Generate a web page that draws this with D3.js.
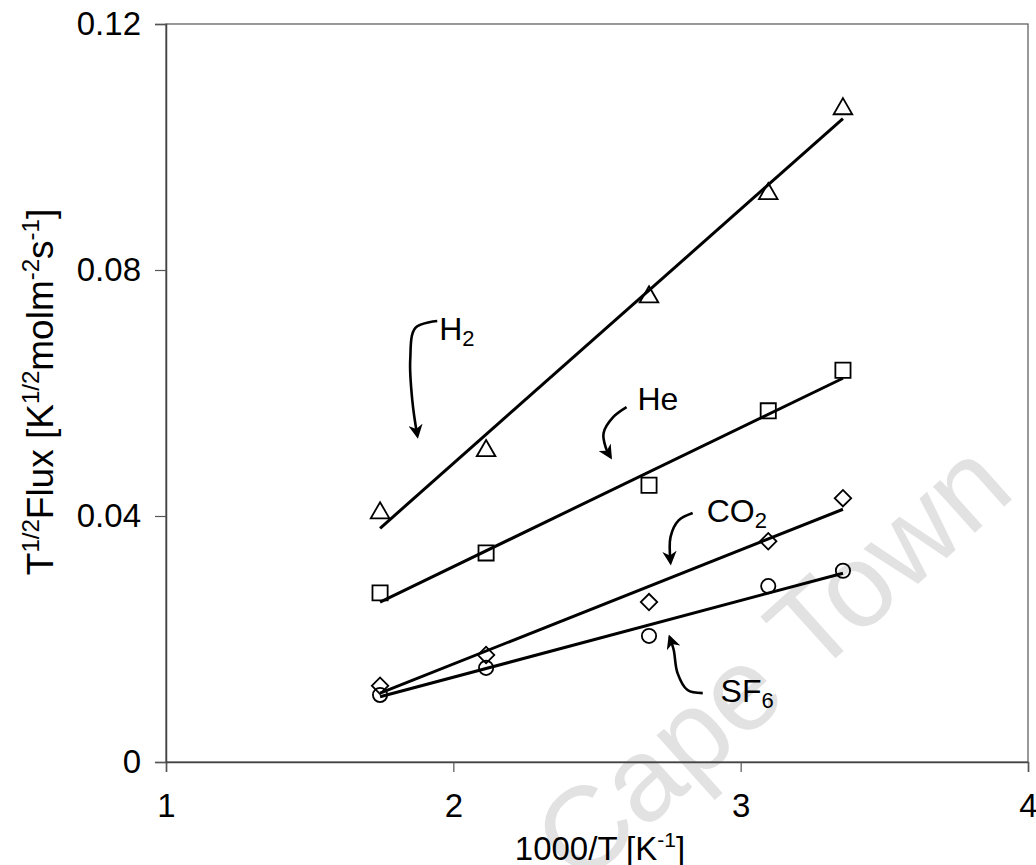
<!DOCTYPE html>
<html>
<head>
<meta charset="utf-8">
<script src="https://cdn.jsdelivr.net/npm/d3@7"></script>
<style>
  html, body { margin: 0; padding: 0; background: #fff; }
  svg { display: block; font-family: "Liberation Sans", Arial, sans-serif; }
</style>
</head>
<body>
<svg id="chart" width="1036" height="865"></svg>
<script>
// Inverse temperature, 1000/T [1/K]
const invT = [1.745, 2.114, 2.681, 3.096, 3.356];

// Temperature-corrected flux T^1/2 * Flux for each gas
const fluxH2  = [0.0405, 0.0506, 0.0756, 0.0924, 0.1062];
const fluxHe  = [0.0275, 0.0340, 0.0450, 0.0571, 0.0637];
const fluxCO2 = [0.0124, 0.0174, 0.0260, 0.0359, 0.0429];
const fluxSF6 = [0.0109, 0.0153, 0.0205, 0.0286, 0.0311];

// Linear fit end values at the first and last inverse temperature
const fitH2  = [0.0380, 0.1046];
const fitHe  = [0.0260, 0.0624];
const fitCO2 = [0.0112, 0.0411];
const fitSF6 = [0.0106, 0.0307];

// Axis ticks
const xTicks = [1, 2, 3, 4];
const yTicks = [0, 0.04, 0.08, 0.12];

// Gas labels and their curved pointer arrows (data units)
const labelH2  = [1.951, 0.0686];
const labelHe  = [2.641, 0.0572];
const labelCO2 = [2.882, 0.0390];
const labelSF6 = [2.930, 0.0098];
const arrowH2  = [[1.944, 0.0717], [1.868, 0.0706], [1.850, 0.0654], [1.857, 0.0589], [1.875, 0.0530]];
const arrowHe  = [[2.603, 0.0577], [2.557, 0.0561], [2.523, 0.0535], [2.530, 0.0512], [2.547, 0.0496]];
const arrowCO2 = [[2.833, 0.0405], [2.784, 0.0393], [2.756, 0.0366], [2.756, 0.0324]];
const arrowSF6 = [[2.868, 0.0112], [2.815, 0.0117], [2.780, 0.0145], [2.767, 0.0182], [2.753, 0.0203]];

const svg = d3.select("#chart");
const margin = { left: 166, right: 8, top: 24, bottom: 103 };
const W = 1036, H = 865;

const x = d3.scaleLinear().domain([1, 4]).range([margin.left, W - margin.right]);
const y = d3.scaleLinear().domain([0, 0.12]).range([H - margin.bottom, margin.top]);

// Faint watermark behind the plot
svg.append("text")
  .attr("transform", "translate(778,668) rotate(-42)")
  .attr("text-anchor", "middle")
  .attr("dominant-baseline", "middle")
  .attr("font-size", 118)
  .attr("fill", "#e2e2e2")
  .text("Cape Town");

// Plot frame
svg.append("rect")
  .attr("x", x(1)).attr("y", y(0.12))
  .attr("width", x(4) - x(1)).attr("height", y(0) - y(0.12))
  .attr("fill", "none").attr("stroke", "#555").attr("stroke-width", 1.2);

// Axes
const xAxis = d3.axisBottom(x).tickValues(xTicks).tickFormat(d3.format("d")).tickSizeOuter(0).tickSize(10).tickPadding(22);
const yAxis = d3.axisLeft(y).tickValues(yTicks).tickFormat(d => d === 0 ? "0" : d3.format(".2f")(d)).tickSizeOuter(0).tickSize(11).tickPadding(14);

const gx = svg.append("g").attr("transform", `translate(0,${y(0)})`).call(xAxis);
const gy = svg.append("g").attr("transform", `translate(${x(1)},0)`).call(yAxis);
[gx, gy].forEach(g => {
  g.select(".domain").attr("stroke", "#444").attr("stroke-width", 1.5);
  g.selectAll(".tick line").attr("stroke", "#555").attr("stroke-width", 1.2);
  g.selectAll(".tick text").attr("font-size", 33).attr("fill", "#000")
    .attr("font-family", "Liberation Sans, Arial, sans-serif");
});

// Axis titles
const xt = svg.append("text")
  .attr("x", 600).attr("y", 860)
  .attr("text-anchor", "middle").attr("font-size", 33);
xt.append("tspan").text("1000/T [K");
xt.append("tspan").attr("font-size", 21).attr("dy", -13).text("-1");
xt.append("tspan").attr("dy", 13).text("]");

const yt = svg.append("text")
  .attr("transform", "translate(53,392) rotate(-90)")
  .attr("text-anchor", "middle").attr("font-size", 37);
yt.append("tspan").text("T");
yt.append("tspan").attr("font-size", 24).attr("dy", -14).text("1/2");
yt.append("tspan").attr("dy", 14).text("Flux [K");
yt.append("tspan").attr("font-size", 24).attr("dy", -14).text("1/2");
yt.append("tspan").attr("dy", 14).text("molm");
yt.append("tspan").attr("font-size", 24).attr("dy", -14).text("-2");
yt.append("tspan").attr("dy", 14).text("s");
yt.append("tspan").attr("font-size", 24).attr("dy", -14).text("-1");
yt.append("tspan").attr("dy", 14).text("]");

// Fit lines
const fits = [fitH2, fitHe, fitCO2, fitSF6];
svg.append("g").selectAll("line").data(fits).join("line")
  .attr("x1", x(invT[0])).attr("x2", x(invT[invT.length - 1]))
  .attr("y1", d => y(d[0])).attr("y2", d => y(d[1]))
  .attr("stroke", "#000").attr("stroke-width", 3);

// Markers (the diamond is a square turned by 45 degrees)
const series = [
  { vals: fluxH2,  sym: d3.symbolTriangle, size: 150, rot: 0 },
  { vals: fluxHe,  sym: d3.symbolSquare,   size: 230, rot: 0 },
  { vals: fluxCO2, sym: d3.symbolSquare,   size: 135, rot: 45 },
  { vals: fluxSF6, sym: d3.symbolCircle,   size: 160, rot: 0 }
];
series.forEach(s => {
  svg.append("g").selectAll("path").data(s.vals).join("path")
    .attr("transform", (d, i) => `translate(${x(invT[i])},${y(d)}) rotate(${s.rot})`)
    .attr("d", d3.symbol().type(s.sym).size(s.size))
    .attr("fill", "none").attr("stroke", "#000").attr("stroke-width", 1.8);
});

// Arrow heads
svg.append("defs").append("marker")
  .attr("id", "head").attr("viewBox", "0 0 10 10")
  .attr("refX", 8).attr("refY", 5)
  .attr("markerWidth", 5.5).attr("markerHeight", 5.5)
  .attr("markerUnits", "strokeWidth")
  .attr("orient", "auto")
  .append("path").attr("d", "M0,0 L10,5 L0,10 L3,5 Z").attr("fill", "#000");

const curve = d3.line().x(d => x(d[0])).y(d => y(d[1])).curve(d3.curveCatmullRom);
[arrowH2, arrowHe, arrowCO2, arrowSF6].forEach(a => {
  svg.append("path").attr("d", curve(a))
    .attr("fill", "none").attr("stroke", "#000").attr("stroke-width", 2.6)
    .attr("marker-end", "url(#head)");
});

// Gas labels with subscripts
function gasLabel(pos, main, sub) {
  const t = svg.append("text").attr("x", x(pos[0])).attr("y", y(pos[1])).attr("font-size", 32);
  t.append("tspan").text(main);
  if (sub) t.append("tspan").attr("font-size", 22).attr("dy", 6).text(sub);
}
gasLabel(labelH2, "H", "2");
gasLabel(labelHe, "He", null);
gasLabel(labelCO2, "CO", "2");
gasLabel(labelSF6, "SF", "6");
</script>
</body>
</html>
